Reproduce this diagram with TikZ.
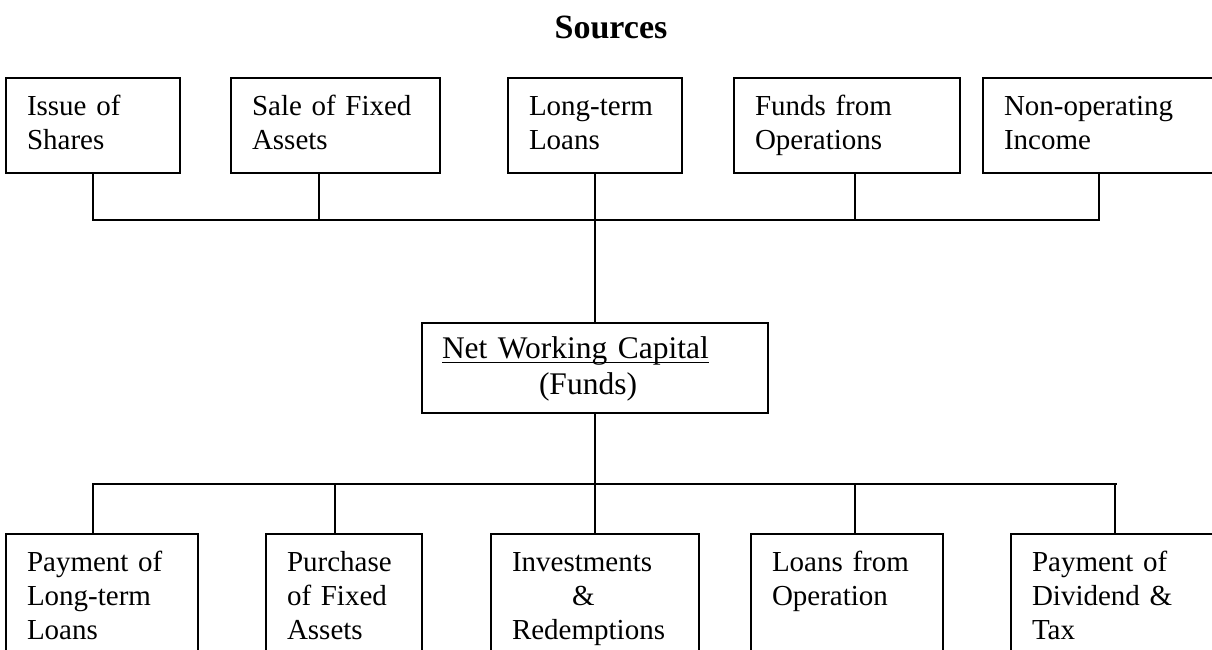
\documentclass[tikz,border=0pt]{standalone}
\usepackage{fontspec}
\setmainfont{Liberation Serif}
\usetikzlibrary{positioning}
\newcommand{\ulcap}[1]{\setbox0\hbox{#1}\rlap{\rule[-2.6pt]{\wd0}{0.8pt}}\box0}
\tikzstyle{srcbox} = [rectangle, draw=black, line width=1pt, anchor=north west, inner xsep=10.5pt, inner ysep=0pt, align=left, text height=18.5pt, text depth=29pt, font=\fontsize{14.5}{17}\selectfont]
\tikzstyle{appbox} = [srcbox, text depth=51.5pt]
\tikzstyle{fundbox} = [srcbox, inner xsep=10pt, text height=17.5pt, text depth=27.5pt, font=\fontsize{15.75}{18}\selectfont]
\tikzstyle{link} = [line width=1pt]

\begin{document}
\begin{tikzpicture}[x=0.5pt, y=-0.5pt]
\useasboundingbox (0,0) rectangle (1212,649);
\clip (0,0) rectangle (1212,649);
\node (title) [anchor=base, font=\fontsize{17}{20}\selectfont\bfseries] at (611,38) {Sources};
% sources
\node (shares) [srcbox, text width=66pt] at (5,77) {Issue of\\Shares};
\node (fixsale) [srcbox, text width=83.5pt] at (230,77) {Sale of Fixed\\Assets};
\node (ltloans) [srcbox, text width=66pt] at (507,77) {Long-term\\Loans};
\node (fundsop) [srcbox, text width=92pt] at (733,77) {Funds from\\Operations};
\node (nonop) [srcbox, text width=95pt] at (982,77) {Non-operating\\Income};
\node (nwc) [fundbox, text width=153pt] at (421,322) {\ulcap{Net Working Capital}\\\hspace*{48.5pt}(Funds)};
% uses
\node (payloan) [appbox, text width=75pt] at (5,533) {Payment of\\Long-term\\Loans};
\node (fixbuy) [appbox, text width=57pt] at (265,533) {Purchase\\of Fixed\\Assets};
\node (invest) [appbox, text width=83pt] at (490,533) {Investments\\\hspace*{30pt}\&\\Redemptions};
\node (loanop) [appbox, text width=75pt] at (750,533) {Loans from\\Operation};
\node (paydiv) [appbox, text width=94pt] at (1010,533) {Payment of\\Dividend \&\\Tax};

\coordinate (topbus) at (594,220);
\coordinate (lowbus) at (594,484);
\coordinate (lowend) at (1117,484);

\draw[link] (shares.south) |- (topbus);
\draw[link] ([xshift=-8.5pt]fixsale.south) |- (topbus);
\draw[link] ([xshift=4pt]fundsop.south) |- (topbus);
\draw[link] (nonop.south) |- (topbus);
\draw[link] (ltloans.south) -- (nwc.north);

\draw[link] (nwc.south) -- (invest.north);
\draw[link] (lowbus) -| ([xshift=-4.5pt]payloan.north);
\draw[link] (lowbus) -| ([xshift=-4.5pt]fixbuy.north);
\draw[link] (lowbus) -| ([xshift=4pt]loanop.north);
\draw[link] (lowbus) -| ([xshift=-5.5pt]paydiv.north);
\draw[link] (lowbus) -- (lowend);
\end{tikzpicture}
\end{document}
